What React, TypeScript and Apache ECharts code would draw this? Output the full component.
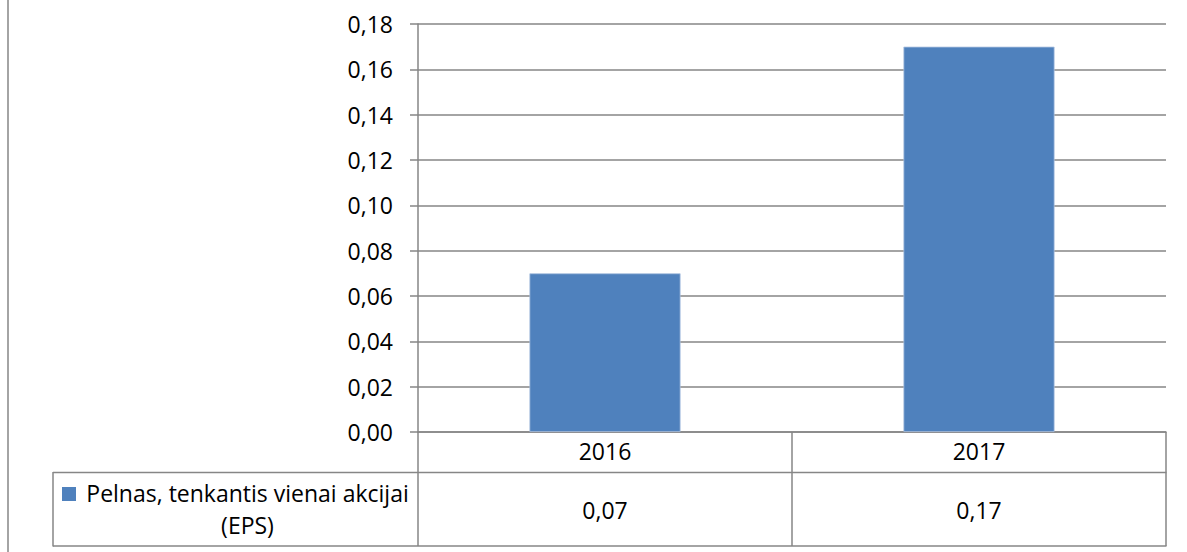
import React, { useEffect, useRef } from "react";
import * as echarts from "echarts";

const categories = ["2016", "2017"];
const seriesName = "Pelnas, tenkantis vienai akcijai (EPS)";
const seriesLegendText = "Pelnas, tenkantis vienai akcijai\n(EPS)";
const epsValues = [0.07, 0.17];
const yMin = 0;
const yMax = 0.18;
const yInterval = 0.02;

const FONT = "'Open Sans', 'Noto Sans', sans-serif";
const LINE = "#868686";
const BAR = "#4F81BD";
const FS = 23;
const LW = 1.5;
const fmt = (v: number) => v.toFixed(2).replace(".", ",");

export default function App() {
  const ref = useRef<HTMLDivElement>(null);
  useEffect(() => {
    if (!ref.current) return;
    const chart = echarts.init(ref.current, undefined, { renderer: "svg" });
    chart.setOption({
      animation: false,
      backgroundColor: "#ffffff",
      textStyle: { fontFamily: FONT },
      grid: { left: 418, right: 21, top: 24, bottom: 120, containLabel: false },
      xAxis: [
        {
          type: "category",
          data: categories,
          position: "bottom",
          axisLine: { show: true, lineStyle: { color: LINE, width: LW } },
          axisTick: { show: true, length: 114, interval: 0, lineStyle: { color: LINE, width: LW } },
          axisLabel: {
            fontSize: FS,
            color: "#000",
            fontFamily: FONT,
            margin: 19,
            verticalAlign: "middle",
          },
          splitLine: { show: false },
        },
        {
          type: "category",
          data: epsValues.map(fmt),
          position: "bottom",
          axisLine: { show: false },
          axisTick: { show: false },
          axisLabel: {
            fontSize: FS,
            color: "#000",
            fontFamily: FONT,
            margin: 78,
            verticalAlign: "middle",
          },
          splitLine: { show: false },
        },
      ],
      yAxis: {
        type: "value",
        min: yMin,
        max: yMax,
        interval: yInterval,
        axisLine: { show: true, lineStyle: { color: LINE, width: LW } },
        axisTick: { show: true, length: 8, lineStyle: { color: LINE, width: LW } },
        axisLabel: {
          fontSize: FS,
          color: "#000",
          fontFamily: FONT,
          margin: 25,
          formatter: (v: number) => fmt(v),
        },
        splitLine: { show: true, lineStyle: { color: LINE, width: LW } },
      },
      series: [
        {
          name: seriesName,
          type: "bar",
          xAxisIndex: 0,
          data: epsValues,
          barWidth: "40.4%",
          itemStyle: { color: BAR, borderColor: "#a9c0de", borderWidth: 0.8 },
        },
      ],
      graphic: [
        { type: "line", shape: { x1: 8, y1: 0, x2: 8, y2: 552 }, style: { stroke: LINE, lineWidth: 1.5 }, silent: true },
        { type: "line", shape: { x1: 53, y1: 472.5, x2: 1166.5, y2: 472.5 }, style: { stroke: LINE, lineWidth: LW }, silent: true },
        { type: "line", shape: { x1: 53, y1: 546, x2: 1166.5, y2: 546 }, style: { stroke: LINE, lineWidth: LW }, silent: true },
        { type: "line", shape: { x1: 53, y1: 472, x2: 53, y2: 546.5 }, style: { stroke: LINE, lineWidth: LW }, silent: true },
        { type: "rect", shape: { x: 62, y: 487, width: 14, height: 14 }, style: { fill: BAR }, silent: true },
        {
          type: "text",
          x: 247.5,
          y: 509,
          style: {
            text: seriesLegendText,
            fontSize: FS,
            fontFamily: FONT,
            fill: "#000",
            align: "center",
            verticalAlign: "middle",
            lineHeight: 32,
          },
          silent: true,
        },
      ],
    });
    return () => chart.dispose();
  }, []);
  return (
    <div
      ref={ref}
      style={{ position: "absolute", left: 0, top: 0, width: 1187, height: 552 }}
    />
  );
}
